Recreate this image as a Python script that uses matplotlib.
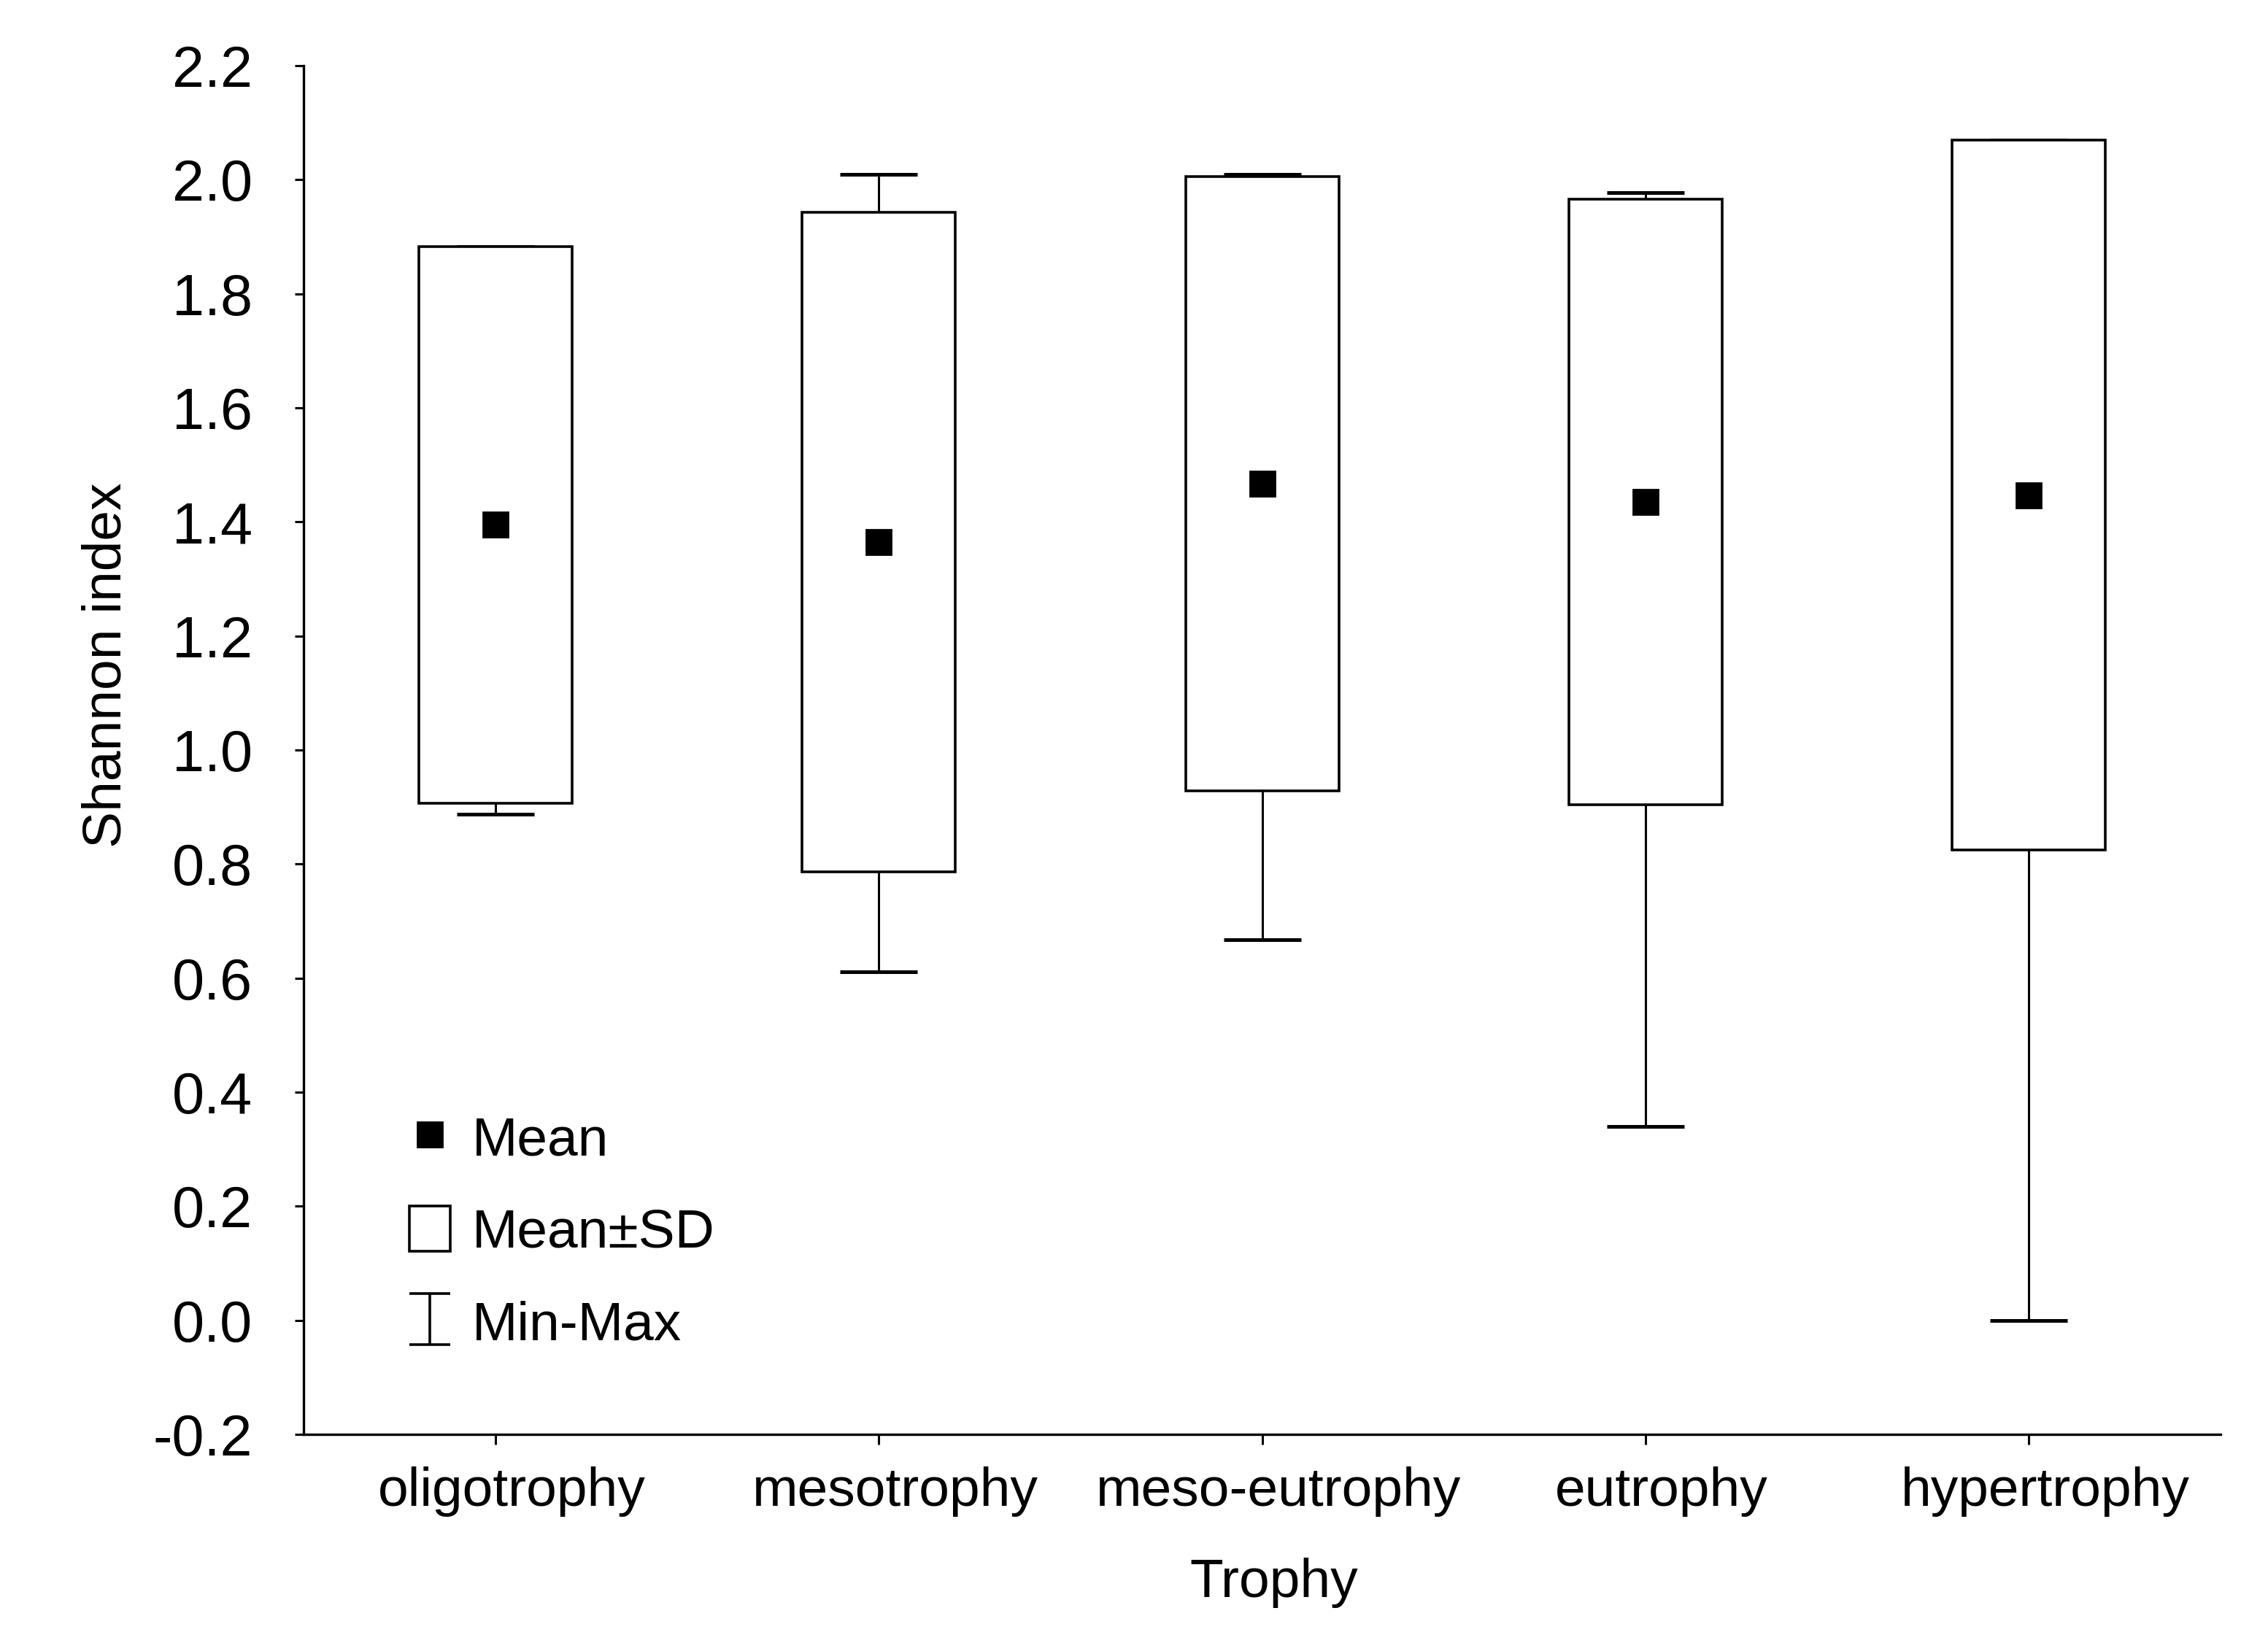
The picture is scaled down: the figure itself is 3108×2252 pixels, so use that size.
import matplotlib
matplotlib.use("Agg")
import matplotlib.pyplot as plt
from matplotlib.lines import Line2D
from matplotlib.patches import Patch
from matplotlib.path import Path
from matplotlib.ticker import FormatStrFormatter, MultipleLocator
from matplotlib.transforms import ScaledTranslation

plt.rcParams["font.family"] = ["Liberation Sans", "DejaVu Sans"]
plt.rcParams["axes.unicode_minus"] = False

# Shannon index by trophic state
categories = ["oligotrophy", "mesotrophy", "meso-eutrophy", "eutrophy", "hypertrophy"]
means = [1.395, 1.365, 1.467, 1.435, 1.447]
sds = [0.488, 0.578, 0.539, 0.531, 0.622]
mins = [0.887, 0.611, 0.667, 0.340, 0.0]
maxs = [1.883, 2.010, 2.010, 1.977, 2.069]

FS = 27
INK = "black"

fig = plt.figure(figsize=(15.54, 11.26), dpi=200, facecolor="white")
ax = fig.add_axes([0.134, 0.127, 0.845, 0.833])

x = list(range(len(categories)))
lo_err = [m - mn for m, mn in zip(means, mins)]
hi_err = [mx - m for m, mx in zip(means, maxs)]

# min-max whiskers sit behind the white SD boxes
ax.errorbar(x, means, yerr=[lo_err, hi_err], fmt="none", ecolor=INK,
            elinewidth=1.1, capsize=19, capthick=1.8, zorder=2)
ax.bar(x, [2 * s for s in sds], bottom=[m - s for m, s in zip(means, sds)],
       width=0.4, facecolor="white", edgecolor=INK, linewidth=1.3, zorder=3)
ax.plot(x, means, "s", color=INK, markersize=12.5, zorder=4)

ax.set_xlim(-0.5, 4.5)
ax.set_ylim(-0.2, 2.2)
ax.yaxis.set_major_locator(MultipleLocator(0.2))
ax.yaxis.set_major_formatter(FormatStrFormatter("%.1f"))
ax.set_xticks(x)
ax.set_xticklabels(categories)

for side in ("top", "right"):
    ax.spines[side].set_visible(False)
for side in ("left", "bottom"):
    ax.spines[side].set_linewidth(1.2)
ax.tick_params(axis="y", direction="out", length=4.3, width=1.1, pad=21,
               labelsize=28.5, colors=INK)
ax.tick_params(axis="x", direction="out", length=5, width=1.1, pad=11,
               labelsize=FS, colors=INK)
# category labels sit a little right of their ticks in the original
nudge = ScaledTranslation(8 / 72, 0, fig.dpi_scale_trans)
for lbl in ax.get_xticklabels():
    lbl.set_transform(lbl.get_transform() + nudge)

ax.set_xlabel("Trophy", fontsize=FS)
ax.xaxis.set_label_coords(0.506, -0.09)
ax.set_ylabel("Shannon index", fontsize=FS)
ax.yaxis.set_label_coords(-0.09, 0.562)

# legend: mean marker, SD box, min-max whisker glyph
ibeam = Path([(-0.8, 1), (0.8, 1), (0, 1), (0, -1), (-0.8, -1), (0.8, -1)],
             [Path.MOVETO, Path.LINETO, Path.MOVETO, Path.LINETO,
              Path.MOVETO, Path.LINETO])
handles = [
    Line2D([], [], marker="s", linestyle="none", color=INK, markersize=12.5),
    Patch(facecolor="white", edgecolor=INK, linewidth=1.3),
    Line2D([], [], marker=ibeam, linestyle="none", markersize=25,
           markerfacecolor="none", markeredgecolor=INK, markeredgewidth=1.3),
]
ax.legend(handles, ["Mean", "Mean\u00b1SD", "Min-Max"], loc="lower left",
          bbox_to_anchor=(0.055, 0.061), frameon=False, fontsize=FS,
          handlelength=0.75, handleheight=0.9, handletextpad=0.4,
          labelspacing=0.73, borderpad=0, borderaxespad=0)

fig.savefig("out.png", dpi=200, facecolor="white")
